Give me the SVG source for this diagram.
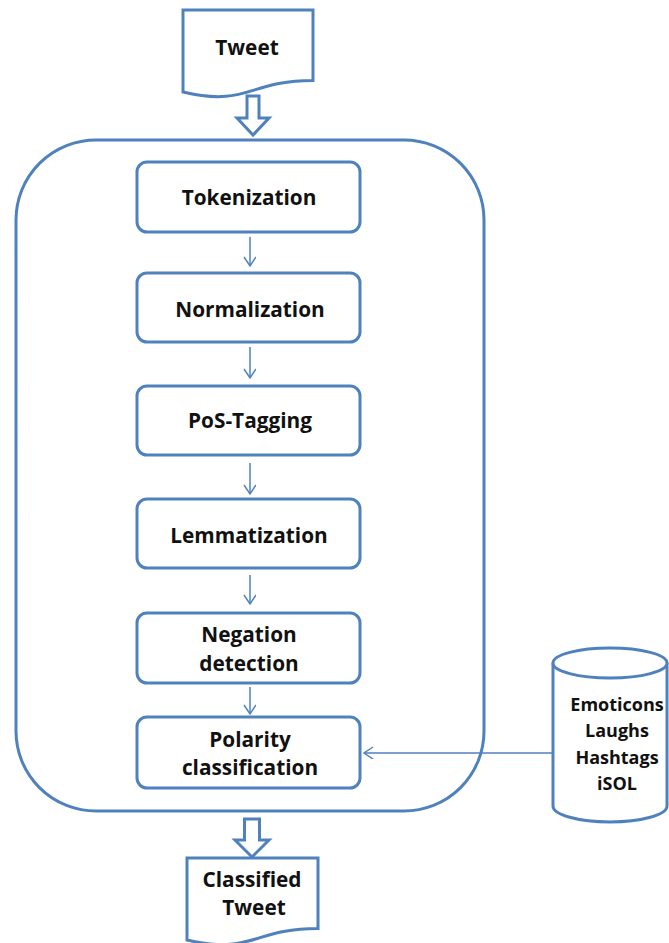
<svg xmlns="http://www.w3.org/2000/svg" width="669" height="943" viewBox="0 0 669 943">
<style>
.shape{fill:#fff;stroke:#4F81BD;stroke-width:3}
.frame{fill:none;stroke:#4F81BD;stroke-width:3}
.lbl{font-family:"Open Sans","Liberation Sans",sans-serif;font-weight:bold;font-size:20.8px;fill:#111;text-anchor:middle}
.sm{font-size:18px}
.conn{fill:none;stroke:#4F81BD;stroke-width:1.5}
.blk{fill:#fff;stroke:#4F81BD;stroke-width:3;stroke-linejoin:miter}
</style>
<defs>
<marker id="v" markerWidth="14" markerHeight="14" refX="10" refY="6" orient="auto" markerUnits="userSpaceOnUse">
<path d="M1,0 L10,6 L1,12" fill="none" stroke="#4F81BD" stroke-width="1.5"/>
</marker>
</defs>
<rect id="container" class="frame" x="16" y="140" width="468" height="671" rx="80" ry="80"/>
<g id="tweet">
<path class="shape" d="M183,10 H313 V80.4 C248,80.4 248,107.2 183,92 Z"/>
<text class="lbl" x="247" y="55">Tweet</text>
</g>
<g id="tokenization">
<rect class="shape" x="137" y="162" width="223" height="70" rx="10"/>
<text class="lbl" x="249" y="205">Tokenization</text>
</g>
<g id="normalization">
<rect class="shape" x="137" y="273" width="223" height="69" rx="10"/>
<text class="lbl" x="250" y="317">Normalization</text>
</g>
<g id="postagging">
<rect class="shape" x="137" y="386" width="223" height="69" rx="10"/>
<text class="lbl" x="250" y="428">PoS-Tagging</text>
</g>
<g id="lemmatization">
<rect class="shape" x="137" y="499" width="223" height="69" rx="10"/>
<text class="lbl" x="249" y="543">Lemmatization</text>
</g>
<g id="negation">
<rect class="shape" x="137" y="613" width="223" height="70" rx="10"/>
<text class="lbl" x="249" y="642">Negation</text>
<text class="lbl" x="249" y="671">detection</text>
</g>
<g id="polarity">
<rect class="shape" x="137" y="717" width="223" height="71" rx="10"/>
<text class="lbl" x="250" y="747">Polarity</text>
<text class="lbl" x="250" y="775">classification</text>
</g>
<g id="lexicons">
<path class="shape" d="M553,663 V806 A57,16 0 0 0 667,806 V663"/>
<ellipse class="shape" cx="610" cy="663" rx="57" ry="15"/>
<text class="lbl sm" x="617" y="711">Emoticons</text>
<text class="lbl sm" x="617" y="737">Laughs</text>
<text class="lbl sm" x="617" y="764">Hashtags</text>
<text class="lbl sm" x="617" y="790">iSOL</text>
</g>
<g id="classified">
<path class="shape" d="M187,858 H318 V928.4 C252.5,928.4 252.5,955.2 187,940 Z"/>
<text class="lbl" x="252" y="887">Classified</text>
<text class="lbl" x="254" y="915">Tweet</text>
</g>
<g id="connectors">
<path class="blk" d="M247,96 H259 V118 H269 L253,135 L237,118 H247 Z"/>
<path class="blk" d="M244.5,819 H259.5 V840 H269 L252,857 L235,840 H244.5 Z"/>
<line class="conn" x1="250" y1="237" x2="250" y2="266" marker-end="url(#v)"/>
<line class="conn" x1="250" y1="347" x2="250" y2="378" marker-end="url(#v)"/>
<line class="conn" x1="250" y1="463" x2="250" y2="494" marker-end="url(#v)"/>
<line class="conn" x1="250" y1="575" x2="250" y2="604" marker-end="url(#v)"/>
<line class="conn" x1="250" y1="687" x2="250" y2="714" marker-end="url(#v)"/>
<line class="conn" x1="553" y1="753" x2="364" y2="753" marker-end="url(#v)"/>
</g>
</svg>
